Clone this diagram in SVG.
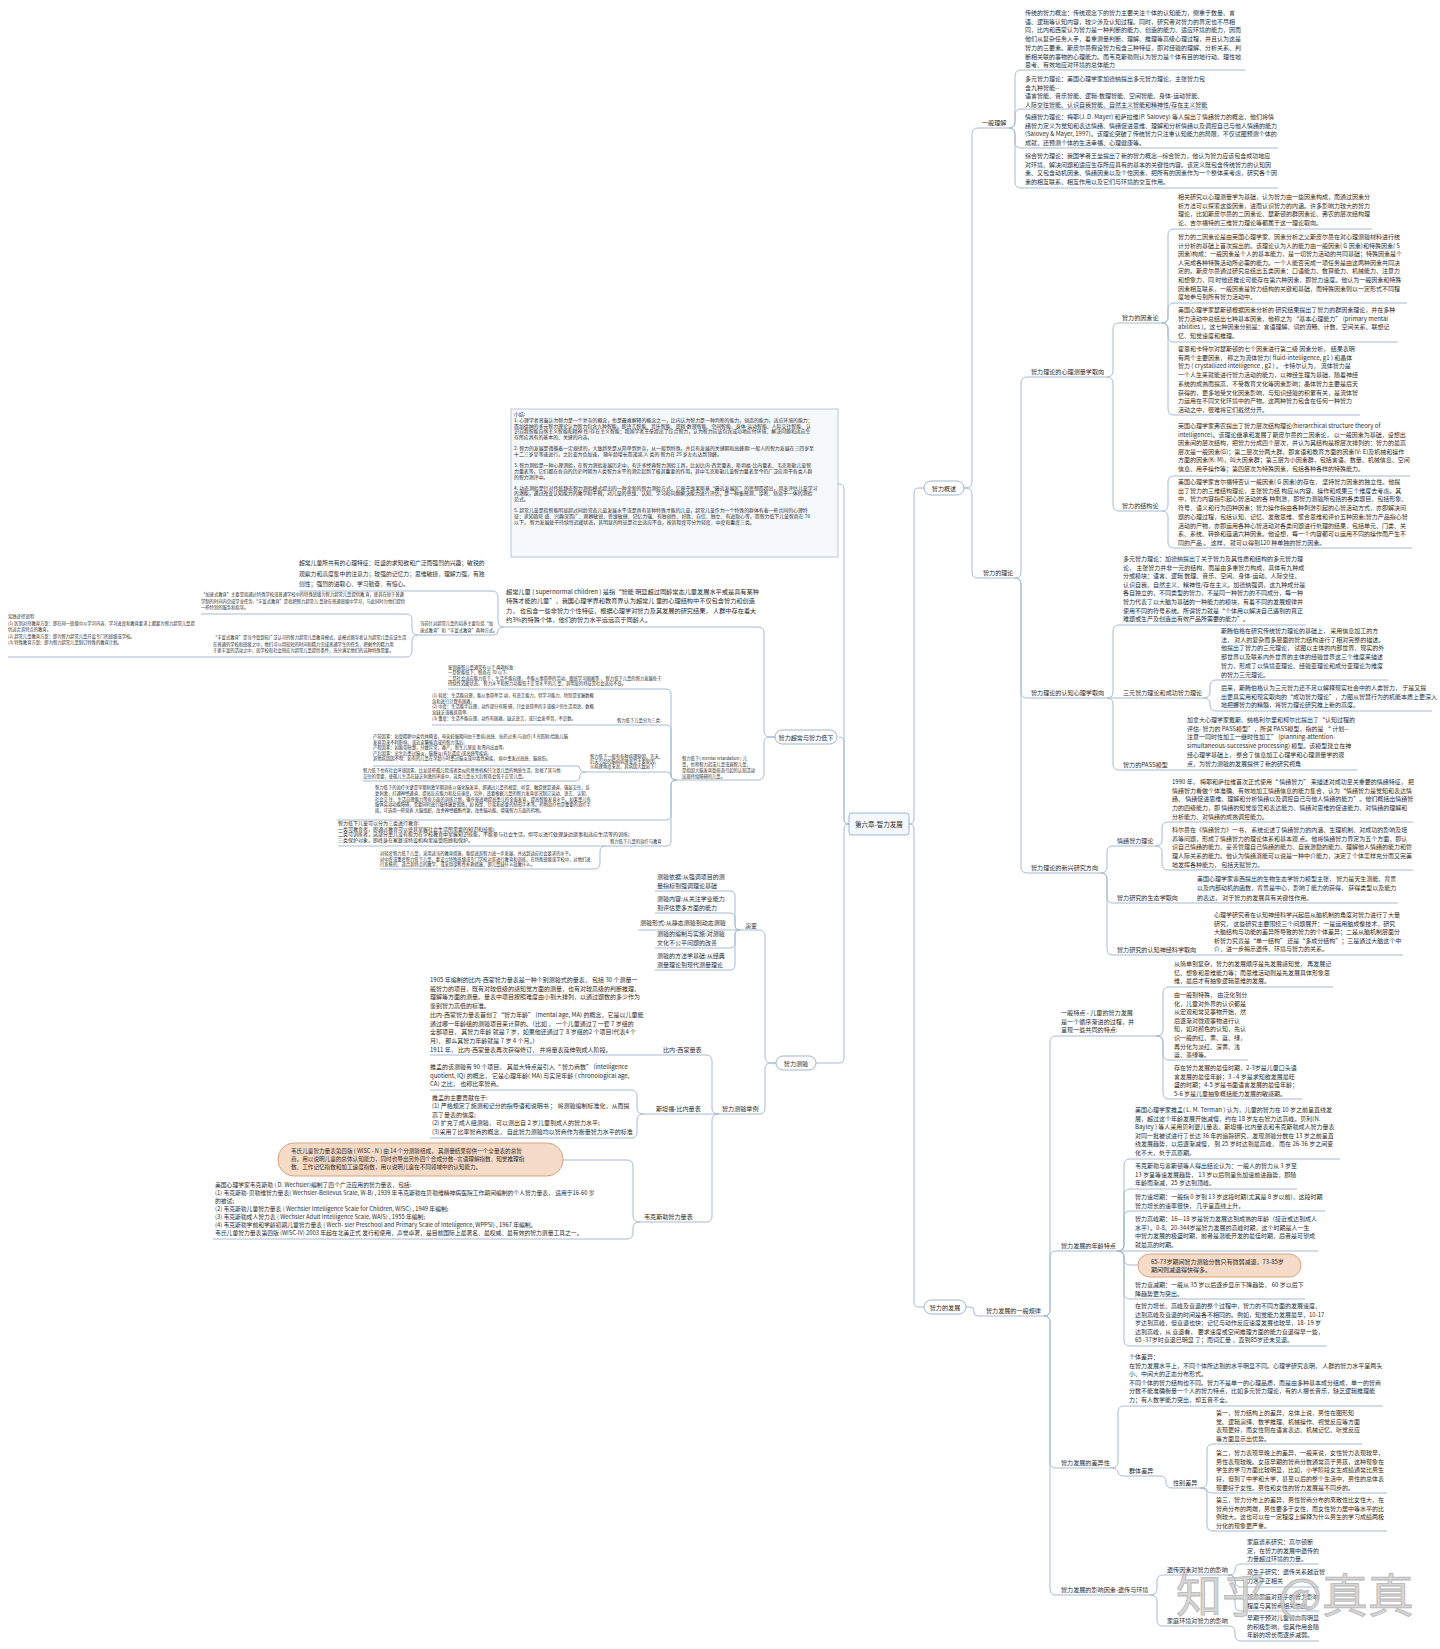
<svg xmlns="http://www.w3.org/2000/svg" width="1440" height="1649" viewBox="0 0 1440 1649">
<style>
text{font-family:"Noto Sans CJK SC","Liberation Sans",sans-serif;fill:#2a2a2a}
.t{font-size:6px}
.lb{font-size:6.1px}
.sm{font-size:4.9px}
.xs{font-size:4.3px}
.wx{font-size:5.8px}
.c{fill:none;stroke:#a7bbd3;stroke-width:1}
.u{stroke:#a7bbd3;stroke-width:1}
.pill{fill:#fff;stroke:#9fb5cf;stroke-width:1}
.ob{fill:#f6dcc8;stroke:#d9a47c;stroke-width:1}
.mid{text-anchor:middle}
</style>
<rect width="1440" height="1649" fill="#fff"/>

<g id="connectors">
<path class="c" d="M909 824 Q914 824 914 819 V493 Q914 488 919 488 H924"/>
<path class="c" d="M909 824 Q914 824 914 829 V1302 Q914 1307 919 1307 H924"/>
<path class="c" d="M964 488 H966 Q972 488 972 482 V134 Q972 128 978 128"/>
<path class="c" d="M964 488 H966 Q972 488 972 494 V572 Q972 578 978 578"/>
<path class="c" d="M1009 128 Q1015 128 1015 122 V76 Q1015 70 1021 70"/>
<path class="c" d="M1009 128 Q1015 128 1015 122 V115 Q1015 109 1021 109"/>
<path class="c" d="M1009 128 Q1015 128 1015 134 V142 Q1015 148 1021 148"/>
<path class="c" d="M1009 128 Q1015 128 1015 134 V182 Q1015 188 1021 188"/>
<path class="c" d="M1015 578 Q1021 578 1021 572 V383 Q1021 377 1027 377"/>
<path class="c" d="M1015 578 Q1021 578 1021 584 V692 Q1021 698 1027 698"/>
<path class="c" d="M1015 578 Q1021 578 1021 584 V867 Q1021 873 1027 873"/>
<path class="c" d="M1107 377 Q1113 377 1113 371 V329 Q1113 323 1119 323"/>
<path class="c" d="M1107 377 Q1113 377 1113 383 V505 Q1113 511 1119 511"/>
<path class="c" d="M1162 323 Q1168 323 1168 317 V235 Q1168 229 1174 229"/>
<path class="c" d="M1162 323 Q1168 323 1168 317 V309 Q1168 303 1174 303"/>
<path class="c" d="M1162 323 Q1168 323 1168 329 V336 Q1168 342 1174 342"/>
<path class="c" d="M1162 323 Q1168 323 1168 329 V409 Q1168 415 1174 415"/>
<path class="c" d="M1162 511 Q1168 511 1168 505 V482 Q1168 476 1174 476"/>
<path class="c" d="M1162 511 Q1168 511 1168 517 V542 Q1168 548 1174 548"/>
<path class="c" d="M1107 698 Q1113 698 1113 692 V631 Q1113 625 1119 625"/>
<path class="c" d="M1107 698 H1119"/>
<path class="c" d="M1107 698 Q1113 698 1113 704 V764 Q1113 770 1119 770"/>
<path class="c" d="M1203 698 Q1210 698 1210 692 V686 Q1210 680 1216 680"/>
<path class="c" d="M1203 698 Q1210 698 1210 704 V705 Q1210 711 1216 711"/>
<path class="c" d="M1101 873 Q1107 873 1107 867 V852 Q1107 846 1113 846"/>
<path class="c" d="M1101 873 Q1107 873 1107 879 V897 Q1107 903 1113 903"/>
<path class="c" d="M1101 873 Q1107 873 1107 879 V949 Q1107 955 1113 955"/>
<path class="c" d="M1155 846 Q1162 846 1162 840 V828 Q1162 822 1168 822"/>
<path class="c" d="M1155 846 Q1162 846 1162 852 V864 Q1162 870 1168 870"/>
<path class="c" d="M966 1307 H970 Q974 1307 974 1311 V1312 Q974 1316 978 1316 H982"/>
<path class="c" d="M1044 1316 Q1050 1316 1050 1310 V1042 Q1050 1036 1056 1036"/>
<path class="c" d="M1044 1316 Q1050 1316 1050 1310 V1257 Q1050 1251 1056 1251"/>
<path class="c" d="M1044 1316 Q1050 1316 1050 1322 V1462 Q1050 1468 1056 1468"/>
<path class="c" d="M1044 1316 Q1050 1316 1050 1322 V1589 Q1050 1595 1056 1595"/>
<path class="c" d="M1156 1036 Q1163 1036 1163 1030 V993 Q1163 987 1169 987"/>
<path class="c" d="M1156 1036 Q1163 1036 1163 1042 V1054 Q1163 1060 1169 1060"/>
<path class="c" d="M1156 1036 Q1163 1036 1163 1042 V1093 Q1163 1099 1169 1099"/>
<path class="c" d="M1117 1251 Q1124 1251 1124 1245 V1165 Q1124 1159 1130 1159"/>
<path class="c" d="M1117 1251 Q1124 1251 1124 1245 V1195 Q1124 1189 1130 1189"/>
<path class="c" d="M1117 1251 Q1124 1251 1124 1245 V1217 Q1124 1211 1130 1211"/>
<path class="c" d="M1117 1251 H1130"/>
<path class="c" d="M1117 1251 Q1124 1251 1124 1257 V1259 Q1124 1265 1130 1265 H1138"/>
<path class="c" d="M1117 1251 Q1124 1251 1124 1257 V1293 Q1124 1299 1130 1299"/>
<path class="c" d="M1117 1251 Q1124 1251 1124 1257 V1340 Q1124 1346 1130 1346"/>
<path class="c" d="M1111 1468 Q1118 1468 1118 1462 V1412 Q1118 1406 1124 1406"/>
<path class="c" d="M1111 1468 Q1118 1468 1118 1472 Q1118 1476 1124 1476"/>
<path class="c" d="M1160 1476 Q1166 1476 1166 1482 Q1166 1488 1172 1488"/>
<path class="c" d="M1200 1488 Q1207 1488 1207 1482 V1450 Q1207 1444 1213 1444"/>
<path class="c" d="M1200 1488 Q1207 1488 1207 1490 Q1207 1493 1213 1493"/>
<path class="c" d="M1200 1488 Q1207 1488 1207 1494 V1525 Q1207 1531 1213 1531"/>
<path class="c" d="M1150 1595 Q1157 1595 1157 1589 V1581 Q1157 1575 1163 1575"/>
<path class="c" d="M1150 1595 Q1157 1595 1157 1601 V1620 Q1157 1626 1163 1626"/>
<path class="c" d="M1228 1575 Q1235 1575 1235 1570 Q1235 1564 1241 1564"/>
<path class="c" d="M1228 1575 Q1235 1575 1235 1581 Q1235 1587 1241 1587"/>
<path class="c" d="M1228 1575 Q1235 1575 1235 1581 V1605 Q1235 1611 1241 1611"/>
<path class="c" d="M1228 1626 Q1235 1626 1235 1632 V1635 Q1235 1641 1241 1641"/>

<path class="c" d="M849 824 Q844 824 844 819 V489 Q844 484 839 484 H838"/>
<path class="c" d="M849 824 Q844 824 844 819 V742 Q844 737 839 737"/>
<path class="c" d="M849 824 Q844 824 844 829 V1058 Q844 1063 839 1063 H816"/>
<path class="c" d="M775 737 H770 Q764 737 764 731 V633 Q764 627 758 627"/>
<path class="c" d="M775 737 H770 Q764 737 764 743 V774 Q764 780 758 780"/>
<path class="c" d="M504 627 Q498 627 498 621 V597 Q498 591 492 591"/>
<path class="c" d="M504 627 Q498 627 498 631 Q498 635 494 635 H492"/>
<path class="c" d="M418 635 Q412 635 412 629 V620 Q412 614 406 614"/>
<path class="c" d="M418 635 Q412 635 412 641 V651 Q412 657 406 657"/>
<path class="c" d="M213 657 H201"/>
<path class="c" d="M677 780 Q671 780 671 775 V694 Q671 689 666 689"/>
<path class="c" d="M677 780 Q671 780 671 775 V730 Q671 725 666 725"/>
<path class="c" d="M677 780 Q671 780 671 776 Q671 772 667 772"/>
<path class="c" d="M677 780 Q671 780 671 785 V815 Q671 820 666 820"/>
<path class="c" d="M677 780 Q671 780 671 785 V841 Q671 846 666 846"/>
<path class="c" d="M586 772 Q580 772 580 769 Q580 766 577 766"/>
<path class="c" d="M586 772 Q580 772 580 776 Q580 781 575 781"/>
<path class="c" d="M606 846 Q600 846 600 852 V863 Q600 869 594 869"/>
<path class="c" d="M776 1063 H771 Q765 1063 765 1057 V936 Q765 930 759 930"/>
<path class="c" d="M776 1063 H771 Q765 1063 765 1069 V1108 Q765 1114 759 1114"/>
<path class="c" d="M740 930 Q735 930 735 925 V896 Q735 891 730 891"/>
<path class="c" d="M740 930 Q735 930 735 925 V918 Q735 913 730 913"/>
<path class="c" d="M740 930 H730"/>
<path class="c" d="M740 930 Q735 930 735 935 V943 Q735 948 730 948"/>
<path class="c" d="M740 930 Q735 930 735 935 V965 Q735 970 730 970"/>
<path class="c" d="M719 1114 Q712 1114 712 1108 V1061 Q712 1055 706 1055"/>
<path class="c" d="M719 1114 H706"/>
<path class="c" d="M719 1114 Q712 1114 712 1120 V1216 Q712 1222 706 1222"/>
<path class="c" d="M644 1114 Q637 1114 637 1108 V1096 Q637 1090 631 1090"/>
<path class="c" d="M644 1114 Q637 1114 637 1120 V1132 Q637 1138 631 1138"/>
<path class="c" d="M640 1222 Q633 1222 633 1216 V1166 Q633 1160 627 1160 H563"/>
<path class="c" d="M640 1222 Q633 1222 633 1228 V1233 Q633 1239 627 1239"/>
</g>

<g id="root">
<rect x="849" y="813" width="60" height="22" rx="3" fill="#f4f7fb" stroke="#9fb5cf"/>
<text class="lb mid" x="879" y="826.5" style="font-size:6.5px">第六章-智力发展</text>
</g>

<g id="n-overview"><rect class="pill" x="924" y="481" width="40" height="14" rx="7"/><text class="lb mid" x="944" y="490.5">智力概述</text></g>
<g id="n-development"><rect class="pill" x="924" y="1300" width="42" height="14" rx="7"/><text class="lb mid" x="945" y="1309.5">智力的发展</text></g>
<g id="n-gifted"><rect class="pill" x="775" y="730" width="62" height="14" rx="7"/><text class="lb mid" x="806" y="739.5">智力超常与智力低下</text></g>
<g id="n-test"><rect class="pill" x="776" y="1056" width="40" height="14" rx="7"/><text class="lb mid" x="796" y="1065.5">智力测验</text></g>

<g id="n-general"><text class="lb" x="982" y="125">一般理解</text><line class="u" x1="978" y1="128" x2="1009" y2="128"/></g>
<g id="n-a1"><text class="t" x="1025" y="15">传统的智力概念：传统观念下的智力主要关注个体的认知能力，侧重于数量、言<tspan x="1025" dy="8.7">语、逻辑等认知内容，较少涉及认知过程。同时，研究者对智力的界定也不尽相</tspan><tspan x="1025" dy="8.7">同，比内和西蒙认为智力是一种判断的能力、创造的能力、适应环境的能力，因而</tspan><tspan x="1025" dy="8.7">他们从复杂任务入手，着重测量判断、理解、推理等高级心理过程，并且认为这是</tspan><tspan x="1025" dy="8.7">智力的三要素。斯皮尔曼假设智力包含三种特征，即对经验的理解、分析关系、判</tspan><tspan x="1025" dy="8.7">断相关联的事物的心理能力。而韦克斯勒则认为智力是个体有目的地行动、理性地</tspan><tspan x="1025" dy="8.7">思考、有效地应对环境的总体能力</tspan></text><line class="u" x1="1021" y1="70" x2="1245" y2="70"/></g>
<g id="n-a2"><text class="t" x="1025" y="81">多元智力理论：美国心理学家加德纳提出多元智力理论，主张智力包<tspan x="1025" dy="8.5">含九种智能--</tspan><tspan x="1025" dy="8.5">语言智能、音乐智能、逻辑-数理智能、空间智能、身体-运动智能、</tspan><tspan x="1025" dy="8.5">人际交往智能、认识自我智能、自然主义智能和精神性/存在主义智能</tspan></text><line class="u" x1="1021" y1="109" x2="1208" y2="109"/></g>
<g id="n-a3"><text class="t" x="1025" y="119">情绪智力理论：梅耶(J. D. Mayer) 和萨拉维(P. Salovey) 等人提出了情绪智力的概念，他们将情<tspan x="1025" dy="8.7">绪智力定义为觉知和表达情绪、情绪促进思维、理解和分析情绪以及调控自己与他人情绪的能力</tspan><tspan x="1025" dy="8.7">(Salovey &amp; Mayer, 1997)。该理论突破了传统智力只注重认知能力的局限，不仅试图预测个体的</tspan><tspan x="1025" dy="8.7">成就，还预测个体的生活幸福、心理健康等。</tspan></text><line class="u" x1="1021" y1="148" x2="1278" y2="148"/></g>
<g id="n-a4"><text class="t" x="1025" y="158">综合智力理论：我国学者王垒提出了新的智力概念—综合智力，他认为智力应该包含成功地应<tspan x="1025" dy="8.7">对环境、解决问题和适应生存所应具有的基本的关键性内容。该定义既包含传统智力的认知因</tspan><tspan x="1025" dy="8.7">素、又包含动机因素、情绪因素以及个性因素，把所有的因素作为一个整体来考虑，研究各个因</tspan><tspan x="1025" dy="8.7">素的相互联系、相互作用以及它们与环境的交互作用。</tspan></text><line class="u" x1="1021" y1="188" x2="1278" y2="188"/></g>

<g id="n-theory"><text class="lb" x="983" y="575">智力的理论</text><line class="u" x1="978" y1="578" x2="1015" y2="578"/></g>
<g id="n-psychometric"><text class="lb" x="1031" y="374">智力理论的心理测量学取向</text><line class="u" x1="1027" y1="377" x2="1107" y2="377"/></g>
<g id="n-factor"><text class="lb" x="1122" y="320">智力的因素论</text><line class="u" x1="1119" y1="323" x2="1162" y2="323"/></g>
<g id="n-b1"><text class="t" x="1178" y="199">相关研究以心理测量学为基础，认为智力由一些因素构成，而通过因素分<tspan x="1178" dy="8.7">析方法可以探索这些因素，进而认识智力的内涵。许多影响力较大的智力</tspan><tspan x="1178" dy="8.7">理论，比如斯皮尔曼的二因素论、瑟斯顿的群因素论、弗农的层次结构理</tspan><tspan x="1178" dy="8.7">论、吉尔福特的三维智力理论等都属于这一理论取向。</tspan></text><line class="u" x1="1174" y1="229" x2="1372" y2="229"/></g>
<g id="n-b2"><text class="t" x="1178" y="239">智力的二因素论是由英国心理学家、因素分析之父斯皮尔曼在对心理测验材料进行统<tspan x="1178" dy="8.6">计分析的基础上首次提出的。该理论认为人的能力由一般因素( G 因素)和特殊因素( S</tspan><tspan x="1178" dy="8.6">因素)构成：一般因素是个人的基本能力，是一切智力活动的共同基础；特殊因素是个</tspan><tspan x="1178" dy="8.6">人完成各种特殊活动所必需的能力。一个人能否完成一项任务是由这两种因素共同决</tspan><tspan x="1178" dy="8.6">定的。斯皮尔曼通过研究总结出五类因素：口语能力、数算能力、机械能力、注意力</tspan><tspan x="1178" dy="8.6">和想象力，同 时他还推论可能存在第六种因素，即智力速度。他认为一般因素和特殊</tspan><tspan x="1178" dy="8.6">因素相互联系，一般因素是智力结构的关键和基础，而特殊因素则以一定形式不同程</tspan><tspan x="1178" dy="8.6">度地参与到所有智力活动中。</tspan></text><line class="u" x1="1174" y1="303" x2="1407" y2="303"/></g>
<g id="n-b3"><text class="t" x="1178" y="312">美国心理学家瑟斯顿根据因素分析的 研究结果提出了智力的群因素理论，并在多种<tspan x="1178" dy="8.6">智力活动中总结出七种基本因素，他称之为 “基本心理能力” (primary mental</tspan><tspan x="1178" dy="8.6">abilities )。这七种因素分别是：言语理解、词的流畅、计数、空间关系、联想记</tspan><tspan x="1178" dy="8.6">忆、知觉速度和推理。</tspan></text><line class="u" x1="1174" y1="342" x2="1398" y2="342"/></g>
<g id="n-b4"><text class="t" x="1178" y="351">霍恩和卡特尔对瑟斯顿的七个因素进行第二级 因素分析，  结果表明<tspan x="1178" dy="8.7">有两个主要因素， 称之为流体智力( fluid-intelligence, g1 ) 和晶体</tspan><tspan x="1178" dy="8.7">智力 ( crystallized intelligence , g2 ) 。 卡特尔认为， 流体智力是</tspan><tspan x="1178" dy="8.7">一个人生来就能进行智力活动的能力，以神经生理为基础，随着神经</tspan><tspan x="1178" dy="8.7">系统的成熟而提高，不受教育文化等因素影响；晶体智力主要是后天</tspan><tspan x="1178" dy="8.7">获得的，更多地受文化因素影响，与知识经验的积累有关，是流体智</tspan><tspan x="1178" dy="8.7">力运用在不同文化环境中的产物。这两种智力包含在任何一种智力</tspan><tspan x="1178" dy="8.7">活动之中，很难将它们截然分开。</tspan></text><line class="u" x1="1174" y1="415" x2="1360" y2="415"/></g>
<g id="n-structure"><text class="lb" x="1122" y="508">智力的结构论</text><line class="u" x1="1119" y1="511" x2="1162" y2="511"/></g>
<g id="n-b5"><text class="t" x="1178" y="428">英国心理学家弗农提出了智力层次结构理论(hierarchical structure theory of<tspan x="1178" dy="8.6">intelligence)。该理论继承和发展了斯皮尔曼的二因素论， 以一般因素为基础，设想出</tspan><tspan x="1178" dy="8.6">因素间的层次结构，把智力分成四个层次，并认为其结构是按层次排列的：智力的最高</tspan><tspan x="1178" dy="8.6">层次是一般因素(G)；第二层次分两大群，即言语和教育方面的因素(V: E)及机械和操作</tspan><tspan x="1178" dy="8.6">方面的因素(K: M)，叫大因素群；第三层为小因素群，包括言语、数量、机械信息、空间</tspan><tspan x="1178" dy="8.6">信息、用手操作等；第四层次为特殊因素，包括各种各样的特殊能力。</tspan></text><line class="u" x1="1174" y1="476" x2="1410" y2="476"/></g>
<g id="n-b6"><text class="t" x="1178" y="484">美国心理学家吉尔福特否认一般因素( G 因素)的存在， 坚持智力因素的独立性。他提<tspan x="1178" dy="8.7">出了智力的三维结构理论，主张智力结 构应从内容、操作和成果三个维度去考虑。其</tspan><tspan x="1178" dy="8.7">中，智力内容指引起心智活动的各 种刺激，即智力测验所包括的各类题目，包括形象、</tspan><tspan x="1178" dy="8.7">符号、语义和行为四种因素；智力操作指由各种刺激引起的心智活动方式，亦即解决问</tspan><tspan x="1178" dy="8.7">题的心理过程，包括认知、记忆、发散思维、聚合思维和评价五种因素;智力产品指心智</tspan><tspan x="1178" dy="8.7">活动的产物，亦即运用各种心智活动对各类问题进行处理的结果，包括单元、门类、关</tspan><tspan x="1178" dy="8.7">系、系统、转换和蕴涵六种因素。他设想，每一个内容都可以运用不同的操作而产生不</tspan><tspan x="1178" dy="8.7">同的产品 。 这样， 就可以得到120 种单独的智力因素。</tspan></text><line class="u" x1="1174" y1="548" x2="1412" y2="548"/></g>

<g id="n-cognitive"><text class="lb" x="1031" y="695">智力理论的认知心理学取向</text><line class="u" x1="1027" y1="698" x2="1107" y2="698"/></g>
<g id="n-g"><text class="t" x="1123" y="561">多元智力理论：加德纳提出了关于智力及其性质和结构的多元智力理<tspan x="1123" dy="8.6">论， 主张智力并非一元的结构，而是由多重智力构成，具体有九种成</tspan><tspan x="1123" dy="8.6">分或模块：语言、逻辑 数理、音乐、空间、身体-运动、人际交往、</tspan><tspan x="1123" dy="8.6">认识自我、自然主义、精神性/存在主义。加德纳强调，这九种成分是</tspan><tspan x="1123" dy="8.6">各自独立的，不同类型的智力，不是同一种智力的不同成分，每一种</tspan><tspan x="1123" dy="8.6">智力代表了以大脑为基础的一种能力的模块，有着不同的发展规律并</tspan><tspan x="1123" dy="8.6">使用不同的符号系统。所谓智力就是“个体用以解决自己遇到的真正</tspan><tspan x="1123" dy="8.6">难题或生产及创造出有效产品所需要的能力”。</tspan></text><line class="u" x1="1119" y1="625" x2="1306" y2="625"/></g>
<g id="n-triarchic"><text class="lb" x="1123" y="695">三元智力理论和成功智力理论</text><line class="u" x1="1119" y1="698" x2="1203" y2="698"/></g>
<g id="n-h"><text class="t" x="1221" y="633">斯腾伯格在研究传统智力理论的基础上， 采用信息加工的方<tspan x="1221" dy="8.7">法， 对人的复杂而多层面的智力结构进行了相对完整的描述。</tspan><tspan x="1221" dy="8.7">他提出了智力的三元理论， 试图以主体的内部世界、现实的外</tspan><tspan x="1221" dy="8.7">部世界以及联系内外世界的主体的经验世界这三个维度来描述</tspan><tspan x="1221" dy="8.7">智力，形成了以情境亚理论、经验亚理论和成分亚理论为维度</tspan><tspan x="1221" dy="8.7">的智力三元理论。</tspan></text><line class="u" x1="1216" y1="680" x2="1388" y2="680"/></g>
<g id="n-i"><text class="t" x="1221" y="690">后来，斯腾伯格认为三元智力还不足以解释现实社会中的人类智力， 于是又提<tspan x="1221" dy="8.6">出更具实用和现实取向的“成功智力理论”，力图从智慧行为的机能本质上更深入</tspan><tspan x="1221" dy="8.6">地把握智力的精髓，将智力理论研究推上新的高度。</tspan></text><line class="u" x1="1216" y1="711" x2="1432" y2="711"/></g>
<g id="n-pass"><text class="lb" x="1123" y="767">智力的PASS模型</text><text class="t" x="1187" y="722">加拿大心理学家戴斯、纳格利尔里和柯尔比提出了“认知过程的<tspan x="1187" dy="8.7">评估- 智力的 PASS模型”，所谓 PASS模型，指的是 “ 计划--</tspan><tspan x="1187" dy="8.7">注意一同时性加工一继时性加工” (planning-attention-</tspan><tspan x="1187" dy="8.7">simultaneous-successive processing) 模型。该模型建立在神</tspan><tspan x="1187" dy="8.7">经心理学基础上， 整合了信息加工心理学和心理测量学的观</tspan><tspan x="1187" dy="8.7">点，为智力测验的发展提供了新的研究视角</tspan></text><line class="u" x1="1119" y1="770" x2="1357" y2="770"/></g>

<g id="n-emerging"><text class="lb" x="1031" y="870">智力理论的新兴研究方向</text><line class="u" x1="1027" y1="873" x2="1101" y2="873"/></g>
<g id="n-ei"><text class="lb" x="1117" y="843">情绪智力理论</text><line class="u" x1="1113" y1="846" x2="1155" y2="846"/></g>
<g id="n-j"><text class="t" x="1172" y="784">1990 年， 梅耶和萨拉维首次正式使用“ 情绪智力” 来描述对成功至关重要的情绪特征， 把<tspan x="1172" dy="8.7">情绪智力看做个体准确、有效地加工情绪信息的能力集合，认为“情绪智力是觉知和表达情</tspan><tspan x="1172" dy="8.7">绪、 情绪促进思维、理解和分析情绪以及调控自己与他人情绪的能力”。他们概括出情绪智</tspan><tspan x="1172" dy="8.7">力的四级能力，即 情绪的知觉鉴赏和表达能力、情绪对思维的促进能力、对情绪的理解和</tspan><tspan x="1172" dy="8.7">分析能力、对情绪的成熟调控能力。</tspan></text><line class="u" x1="1168" y1="822" x2="1413" y2="822"/></g>
<g id="n-k"><text class="t" x="1172" y="832">科尔曼在《情绪智力》一书， 系统论述了情绪智力的内涵、生理机制、对成功的影响及培<tspan x="1172" dy="8.7">养等问题，形成了情绪智力的理论体系和基本观 点。他将情绪智力界定为五个方面，即认</tspan><tspan x="1172" dy="8.7">识自己情绪的能力、妥善管理自己情绪的能力、自我激励的能力、理解他人情绪的能力和管</tspan><tspan x="1172" dy="8.7">理人际关系的能力。他认为情绪潜能可以说是一种中介能力，决定了个体怎样充分而又完美</tspan><tspan x="1172" dy="8.7">地发挥各种能力， 包括天赋智力。</tspan></text><line class="u" x1="1168" y1="870" x2="1413" y2="870"/></g>
<g id="n-eco"><text class="lb" x="1117" y="900">智力研究的生态学取向</text><text class="t" x="1197" y="881">美国心理学家塞西提出的生物生态学智力模型主张， 智力是天生潜能、背景<tspan x="1197" dy="9.3">以及内部动机的函数，背景是中心，影响了能力的获得， 获得类型以及能力</tspan><tspan x="1197" dy="9.3">的表达， 对于智力的发展具有关键性作用。</tspan></text><line class="u" x1="1113" y1="903" x2="1398" y2="903"/></g>
<g id="n-neuro"><text class="lb" x="1117" y="952">智力研究的认知神经科学取向</text><text class="t" x="1214" y="917">心理学研究者在认知神经科学兴起后从脑机制的角度对智力进行了大量<tspan x="1214" dy="8.6">研究， 这些研究主要围绕三个问题展开：一是运用脑成像技术，研究</tspan><tspan x="1214" dy="8.6">大脑结构与功能的差异所导致的智力的个体差异；二是从脑机制层面分</tspan><tspan x="1214" dy="8.6">析智力究竟是“单一结构” 还是“多成分结构”；三是通过大脑这个中</tspan><tspan x="1214" dy="8.6">介，进一步揭示遗传、环境与智力的关系。</tspan></text><line class="u" x1="1113" y1="955" x2="1403" y2="955"/></g>

<g id="n-rules"><text class="lb" x="986" y="1313">智力发展的一般规律</text><line class="u" x1="982" y1="1316" x2="1044" y2="1316"/></g>
<g id="n-common"><text class="lb" x="1061" y="1015">一般特点 - 儿童的智力发展<tspan x="1061" dy="8.6">是一个循序渐进的过程，并</tspan><tspan x="1061" dy="8.6">呈现一些共同的特点:</tspan></text><line class="u" x1="1056" y1="1036" x2="1156" y2="1036"/></g>
<g id="n-n"><text class="t" x="1174" y="966">从简单到复杂，智力的发展顺序是先发展感知觉， 再发展记<tspan x="1174" dy="8.6">忆、想象和思维能力等；而思维活动则是先发展具体形象思</tspan><tspan x="1174" dy="8.6">维，最后才有抽象逻辑思维的发展。</tspan></text><line class="u" x1="1169" y1="987" x2="1333" y2="987"/></g>
<g id="n-o"><text class="t" x="1174" y="997">由一般到特殊， 由泛化到分<tspan x="1174" dy="8.6">化，儿童对外界的认识都是</tspan><tspan x="1174" dy="8.6">从宏观和常见事物开始，然</tspan><tspan x="1174" dy="8.6">后逐渐对微观事物进行认</tspan><tspan x="1174" dy="8.6">知，如对颜色的认知，先认</tspan><tspan x="1174" dy="8.6">识一般的红、黄、蓝、绿，</tspan><tspan x="1174" dy="8.6">再分化为淡红、深黄、浅</tspan><tspan x="1174" dy="8.6">蓝、墨绿等。</tspan></text><line class="u" x1="1169" y1="1060" x2="1248" y2="1060"/></g>
<g id="n-p"><text class="t" x="1174" y="1070">存在智力发展的最佳时期，2-3岁是儿童口头语<tspan x="1174" dy="8.7">言发展的最佳年龄；3 - 4 岁是求知欲发展最旺</tspan><tspan x="1174" dy="8.7">盛的时期；4-5 岁是书面语言发展的最佳年龄；</tspan><tspan x="1174" dy="8.7">5-6 岁是儿童抽象概括能力发展的敏感期。</tspan></text><line class="u" x1="1169" y1="1099" x2="1302" y2="1099"/></g>

<g id="n-age"><text class="lb" x="1061" y="1248">智力发展的年龄特点</text><line class="u" x1="1056" y1="1251" x2="1117" y2="1251"/></g>
<g id="n-q"><text class="t" x="1135" y="1112">美国心理学家推孟( L. M. Terman ) 认为，儿童的智力在 10 岁之前呈直线发<tspan x="1135" dy="8.6">展，超过这个年龄发展开始减慢，约在 18 岁左右智力达高峰。贝利(N.</tspan><tspan x="1135" dy="8.6">Bayley ) 等人采用贝利婴儿量表、斯坦福-比内量表和韦克斯勒成人智力量表</tspan><tspan x="1135" dy="8.6">对同一批被试进行了长达 36 年的追踪研究，发现测验分数在 13 岁之前呈直</tspan><tspan x="1135" dy="8.6">线发展趋势，以后逐渐减慢， 到 25 岁时达到最高峰， 而在 26-36 岁之间变</tspan><tspan x="1135" dy="8.6">化不大，处于高原期。</tspan></text><line class="u" x1="1130" y1="1159" x2="1340" y2="1159"/></g>
<g id="n-r"><text class="t" x="1135" y="1168">韦克斯勒与塞斯顿等人得出结论认为：一般人的智力从 3 岁至<tspan x="1135" dy="8.6">13 岁呈等速发展趋势， 13 岁以后则呈负加速前进趋势，即随</tspan><tspan x="1135" dy="8.6">年龄而渐减，25 岁达到顶峰。</tspan></text><line class="u" x1="1130" y1="1189" x2="1297" y2="1189"/></g>
<g id="n-s"><text class="t" x="1135" y="1199">智力速增期：一般指 0 岁到 13 岁这段时期(尤其是 8 岁以前)，这段时期<tspan x="1135" dy="8.6">智力增长的速率很快， 几乎呈直线上升。</tspan></text><line class="u" x1="1130" y1="1211" x2="1325" y2="1211"/></g>
<g id="n-t"><text class="t" x="1135" y="1221">智力高峰期：16—18 岁是智力发展达到成熟的年龄（接近或达到成人<tspan x="1135" dy="8.6">水平）。0-8、20-344岁是智力发展的高峰时期，这个时期是人一生</tspan><tspan x="1135" dy="8.6">中智力发展的极盛时期，前者是潜能开发的最佳时期，后者是可望成</tspan><tspan x="1135" dy="8.6">就最高的时期。</tspan></text><line class="u" x1="1130" y1="1251" x2="1318" y2="1251"/></g>
<g id="n-u"><rect class="ob" x="1138" y="1254" width="163" height="23" rx="11.5"/><text class="t" x="1151" y="1264">65-73岁期间智力测验分数只有微弱减退，73-85岁<tspan x="1151" dy="8.3">期间则减退得快得多。</tspan></text></g>
<g id="n-v"><text class="t" x="1135" y="1287">智力衰减期：一般从 35 岁以后逐步显示下降趋势， 60 岁以后下<tspan x="1135" dy="8.6">降趋势更为突出。</tspan></text><line class="u" x1="1130" y1="1299" x2="1305" y2="1299"/></g>
<g id="n-w"><text class="t" x="1135" y="1308">在智力增长、高峰及衰退的整个过程中，智力的不同方面的发展速度、<tspan x="1135" dy="8.6">达到高峰及衰退的时间是各不相同的。例如，知觉能力发展最早，10-17</tspan><tspan x="1135" dy="8.6">岁达到高峰，但衰退也快；记忆与动作反应速度发展也较早，18- 19 岁</tspan><tspan x="1135" dy="8.6">达到高峰，从 衰退看， 要求速度或空间推理方面的能力衰退得早一些，</tspan><tspan x="1135" dy="8.6">65 -37岁时衰退已明显 了；而词汇量 ，直到85岁还未见退。</tspan></text><line class="u" x1="1130" y1="1346" x2="1327" y2="1346"/></g>

<g id="n-diff"><text class="lb" x="1061" y="1465">智力发展的差异性</text><line class="u" x1="1056" y1="1468" x2="1111" y2="1468"/></g>
<g id="n-x"><text class="t" x="1129" y="1359">个体差异：<tspan x="1129" dy="8.6">在智力发展水平上，不同个体所达到的水平明显不同。心理学研究表明， 人群的智力水平呈两头</tspan><tspan x="1129" dy="8.6">小、中间大的正态分布形式。</tspan><tspan x="1129" dy="8.6">不同个体的智力结构也不同。智力不是单一的心理品质，而是由多种基本成分组成，单一的智商</tspan><tspan x="1129" dy="8.6">分数不能准确衡量一个人的智力特点，比如多元智力理论，有的人擅长音乐，缺乏逻辑推理能</tspan><tspan x="1129" dy="8.6">力；有人数学能力突出，却五音不全。</tspan></text><line class="u" x1="1124" y1="1406" x2="1383" y2="1406"/></g>
<g id="n-group"><text class="lb" x="1129" y="1473">群体差异</text><line class="u" x1="1124" y1="1476" x2="1160" y2="1476"/></g>
<g id="n-gender"><text class="lb" x="1173" y="1485">性别差异</text><line class="u" x1="1172" y1="1488" x2="1200" y2="1488"/></g>
<g id="n-y"><text class="t" x="1216" y="1415">第一，智力结构上的差异，总体上说，男性在图形知<tspan x="1216" dy="8.7">觉、逻辑演绎、数学推理、机械操作、视觉反应等方面</tspan><tspan x="1216" dy="8.7">表现更好，而女性则在语言表达、机械记忆、听觉反应</tspan><tspan x="1216" dy="8.7">等方面显示出优势。</tspan></text><line class="u" x1="1213" y1="1444" x2="1362" y2="1444"/></g>
<g id="n-z"><text class="t" x="1216" y="1455">第二，智力表现早晚上的差异，一般来说，女性智力表现较早，<tspan x="1216" dy="8.7">男性表现较晚。女孩早期的智商分数通常高于男孩，这种现象在</tspan><tspan x="1216" dy="8.7">学生的学习方面比较明显，比如，小学阶段女生成绩通常比男生</tspan><tspan x="1216" dy="8.7">好，但到了中学和大学，甚至以后的整个生活中，男性的总体表</tspan><tspan x="1216" dy="8.7">现要好于女性。男性和女性的智力发展是不同步的。</tspan></text><line class="u" x1="1213" y1="1493" x2="1387" y2="1493"/></g>
<g id="n-aa"><text class="t" x="1216" y="1502">第三，智力分布上的差异，男性智商分布的离散性比女性大，在<tspan x="1216" dy="8.7">智商分布的两端，男性要多于女性，而女性智力居中等水平的比</tspan><tspan x="1216" dy="8.7">例较大。这也可以在一定程度上解释为什么男生的学习成绩两极</tspan><tspan x="1216" dy="8.7">分化的现象更严重。</tspan></text><line class="u" x1="1213" y1="1531" x2="1387" y2="1531"/></g>

<g id="n-factors"><text class="lb" x="1061" y="1592">智力发展的影响因素-遗传与环境</text><line class="u" x1="1056" y1="1595" x2="1150" y2="1595"/></g>
<g id="n-heredity"><text class="lb" x="1167" y="1572">遗传因素对智力的影响</text><line class="u" x1="1163" y1="1575" x2="1228" y2="1575"/></g>
<g id="n-bb"><text class="t" x="1247" y="1544">家庭谱系研究：高尔顿断<tspan x="1247" dy="8.6">定，在智力的发展中遗传的</tspan><tspan x="1247" dy="8.6">力量超过环境的力量。</tspan></text><line class="u" x1="1241" y1="1564" x2="1319" y2="1564"/></g>
<g id="n-cc"><text class="t" x="1247" y="1574">双生子研究：遗传关系越近智<tspan x="1247" dy="8.6">力水平正相关</tspan></text><line class="u" x1="1241" y1="1587" x2="1319" y2="1587"/></g>
<g id="n-dd"><text class="t" x="1247" y="1599">领养家庭对孩子的智力影响<tspan x="1247" dy="8.6">程度与其智商相关性比。</tspan></text><line class="u" x1="1241" y1="1611" x2="1319" y2="1611"/></g>
<g id="n-family"><text class="lb" x="1167" y="1623">家庭环境对智力的影响</text><line class="u" x1="1163" y1="1626" x2="1228" y2="1626"/></g>
<g id="n-ee"><text class="t" x="1247" y="1620">早期干预对儿童智力有明显<tspan x="1247" dy="8.7">的积极影响，但其作用会随</tspan><tspan x="1247" dy="8.7">年龄的增长而逐步减弱。</tspan></text><line class="u" x1="1241" y1="1641" x2="1319" y2="1641"/></g>

<g id="n-summary"><rect x="511" y="409" width="327" height="148" fill="#f6f9fc" stroke="#b7c8db"/>
<text class="sm" x="514" y="416">小结:<tspan x="514" dy="5.8">1. 心理学者普遍认为智力是一个复杂的概念，也是最难解释的概念之一，比内认为智力是一种判断的能力，创造的能力，适应环境的能力；</tspan><tspan x="514" dy="5.8">而加德纳的多元智力理论认为智力包含九种智能，即语言智能、音乐智能、逻辑-数理智能、空间智能、身体-运动智能、人际交往智能、认</tspan><tspan x="514" dy="5.8">识自我智能自然主义智能和精神 性/存在主义智能；我国学者王垒提出了综合智力，认为智力应该包含成功地应付环境、解决问题和适应生</tspan><tspan x="514" dy="5.8">存所应具有的基本的、关键的内容。</tspan><tspan x="514" dy="11">2. 智力的发展是遵循着一定规律的，大致趋势是从简单到复杂，从一般到特殊，并且有发展的关键期和高峰期:一般人的智力发展在三四岁至</tspan><tspan x="514" dy="5.8">十二三岁呈等速进行，之后变为负加速，  随年龄增长而递减,人 类的 智力在 25 岁左右达到顶峰。</tspan><tspan x="514" dy="11">3. 智力测验是一种心理测验，在智力测验发展历史中，有许多经典智力测验工具，比如比内-西蒙量表、斯坦福-比内量表、韦克斯勒儿童智</tspan><tspan x="514" dy="5.8">力量表等，它们都在各自的历史时期为人类智力水平的测定起到了极其重要的作用，其中韦克斯勒儿童智力量表至今仍广泛应用于各类人群</tspan><tspan x="514" dy="5.8">的智力测评中。</tspan><tspan x="514" dy="11">4. 动态测验是针对传统静态智力测验模式提出的一种全新的智力测验方式，它基于维果斯基“最近发展区”的思想而提出，用来评估儿童学习</tspan><tspan x="514" dy="5.8">的潜能，通过改变认知能力的教学和干预，对儿童的思维、认知、学习和问题解决能力进行评估，是一种集预测、诊断、矫治于一体的测验</tspan><tspan x="514" dy="5.8">范式。</tspan><tspan x="514" dy="11">5. 超常儿童是指智能明显超过同龄常态儿童发展水平或是具有某种特殊才能的儿童，超常儿童作为一个特殊的群体有着一些共同的心理特</tspan><tspan x="514" dy="5.8">征：求知欲旺 盛、兴趣深而广、观察敏锐、思维敏捷、记忆力强、有独创性、好胜、自信、独立、有进取心等，而智力低下儿童智商在 70</tspan><tspan x="514" dy="5.8">以下， 智力发展处于持续性迟缓状态，其明显的特征是社会适应不良，按其程度可分为轻度、中度和重度三类。</tspan></text></g>

<g id="n-supernormal"><text class="t" x="506" y="594" style="font-size:6.2px">超常儿童 ( supernormal children ) 是指“智能 明显超过同龄常态儿童发展水平或是具有某种<tspan x="506" dy="9.4">特殊才能的儿童”，我国心理学界和教育界认为超常儿 童的心理结构中不仅包含智力和创造</tspan><tspan x="506" dy="9.4">力， 也包含一些非智力个性特征，根据心理学对智力及其发展的研究结果， 人群中存在着大</tspan><tspan x="506" dy="9.4">约3%的特殊个体，他们的智力水平远远高于同龄人。</tspan></text><line class="u" x1="504" y1="627" x2="758" y2="627"/></g>
<g id="n-traits"><text class="t" x="299" y="565" style="font-size:5.8px">超常儿童所共有的心理特征：旺盛的求知欲和广泛而强烈的兴趣；敏锐的<tspan x="299" dy="10.5">观察力和高度集中的注意力；较强的记忆力；思维敏捷，理解力强，有独</tspan><tspan x="299" dy="10.5">创性；强烈的进取心、学习勤奋、有恒心。</tspan></text><line class="u" x1="299" y1="591" x2="492" y2="591"/></g>
<g id="n-training"><text class="xs" x="420" y="625">当前针对超常儿童的培养主要包括“加<tspan x="420" dy="7">速式教育”和“丰富式教育”两种方式。</tspan></text><line class="u" x1="418" y1="635" x2="492" y2="635"/></g>
<g id="n-accel"><text class="xs" x="201" y="596">“加速式教育”主要是指通过特殊学校或普通学校中的特殊班级为智力超常儿童提供教 育，使其在短于普通<tspan x="201" dy="6.5">学制的时间内完成学业任务;“丰富式教育”是指把智力超常儿 童放在普通班级中学习，与此同时为他们提供</tspan><tspan x="201" dy="6.5">一些特别的服务和指导。</tspan></text><line class="u" x1="201" y1="614" x2="406" y2="614"/></g>
<g id="n-enrich"><text class="xs" x="213" y="639">“丰富式教育”是当今受到较广泛认可的智力超常儿童教育模式，该模式倡导者认为超常儿童应该生活<tspan x="213" dy="6.5">在普通的学校和班级之中，他们可以用较短的时间和精力完成普通学生的任务，把剩余的精力用</tspan><tspan x="213" dy="6.5">于更丰富的活动之中，而学校和社会则应为超常儿童提供条件，充分满足他们的这种特殊需要。</tspan></text><line class="u" x1="213" y1="657" x2="406" y2="657"/></g>
<g id="n-practice"><text class="xs" x="8" y="618">实践途径说明:<tspan x="8" dy="6.5">(1) 区别对待教育方案：即在同一班级中从学习内容、学习进度和教育要求上都要为智力超常儿童提</tspan><tspan x="8" dy="6.5">供适合其特点的教育。</tspan><tspan x="8" dy="6.5">(2) 超常儿童教育方案：即为智力超常儿童开设专门的班级或学校。</tspan><tspan x="8" dy="6.5">(3) 特殊教育方案：即为智力超常儿童制订特殊的教育计划。</tspan></text><line class="u" x1="8" y1="657" x2="201" y2="657"/></g>

<g id="n-retard"><text class="xs" x="682" y="760">智力低下( mental retardation ) 儿<tspan x="682" dy="6">童，也称智力迟滞儿童或弱智儿童，</tspan><tspan x="682" dy="6">是指因大脑发育受损而引起的认知活动</tspan><tspan x="682" dy="6">出现持续障碍的儿童。</tspan></text><line class="u" x1="677" y1="780" x2="758" y2="780"/></g>
<g id="n-ra"><text class="xs" x="448" y="669">鉴别弱智儿童通常有以下 两项标准:<tspan x="448" dy="5.4">一是智能低下，智商在 70 以下;</tspan><tspan x="448" dy="5.4">二是社会适应能力低下，生活不能自理， 不能从事简单的劳动，跟班学习困难等 ， 智力低下儿童的智力发展处于</tspan><tspan x="448" dy="5.4">持续性迟缓状态， 智力水平和智力功能低于正常水平的儿 童，其明显的特征是社会适应不良。</tspan></text><line class="u" x1="448" y1="689" x2="666" y2="689"/></g>
<g id="n-rb"><text class="xs" x="617" y="722">智力低下儿童分为三类:</text><text class="xs" x="432" y="697">(1) 轻度：生活能自理，能从事简单劳 动，有语言能力，但学习能力、特别是掌握数概<tspan x="432" dy="5.7">念和进行计算有困难;</tspan><tspan x="432" dy="5.7">(2) 中度：生活能半自理，动作部分有障 碍，只会说简单的字或极少的生活用语，数概</tspan><tspan x="432" dy="5.7">念缺乏或极其简单;</tspan><tspan x="432" dy="5.7">(3) 重度：生活不能自理，动作有困难，缺乏语言，或只会发单音，不识数。</tspan></text><line class="u" x1="432" y1="725" x2="666" y2="725"/></g>
<g id="n-rc"><text class="xs" x="590" y="758">智力低下一般有各种病理原因，先天、<tspan x="590" dy="5">后天引起的脑病病理变是主要原因，</tspan><tspan x="590" dy="5">从病理角度来说，其病因大致如下:</tspan></text><line class="u" x1="586" y1="772" x2="667" y2="772"/></g>
<g id="n-rc1"><text class="xs" x="373" y="738">产前因素：如受精卵中染色体畸变，母亲妊娠期间由于患病(高烧、抗药过多)与治疗( X 光照射)给胎儿脑<tspan x="373" dy="5.6">发育带来不利影响，或近亲繁殖造成的智力落后;</tspan><tspan x="373" dy="5.6">产程因素：如胎带绕颈，分娩异常，难产，新生儿窒息 和颅内出血等;</tspan><tspan x="373" dy="5.6">产后因素：出生后患过脑炎，脑膜炎(有后遗症)或高烧等疾病;</tspan><tspan x="373" dy="5.6">其他病因因不明：如有的儿童在早龄小时患过脑炎或中毒性痢疾，   病中患发过高烧、脑损伤。</tspan></text><line class="u" x1="373" y1="766" x2="577" y2="766"/></g>
<g id="n-rc2"><text class="xs" x="363" y="772">智力低下也有社会环境因素，比如某些孤儿院或者类似的慈善机构只注意儿童的物质生活，忽视了其与他<tspan x="363" dy="5.8">交往的需要，使孤儿生活在缺乏刺激的环境中，这类儿童长大后智商会低于正常儿童。</tspan></text><line class="u" x1="363" y1="781" x2="575" y2="781"/></g>
<g id="n-rd"><text class="xs" x="375" y="789">智力低下的治疗关键是早期刺激早期训练以强化脑发育，即通过儿童的视觉、听觉、触觉感觉通道，强届交往，反<tspan x="375" dy="5.8">复刺激，打通神经通道，提高反应能力和反应速度。另外，还要根据儿童的智力发育状况制订运动、语言、认知、</tspan><tspan x="375" dy="5.8">社会交 往、生活自理能力等各方面的训练计划，循序渐进地提高患儿的全面发育，提高智能发育水平。如果患儿有</tspan><tspan x="375" dy="5.8">肢体运动功能障碍，需要同时进行肢体康复锻炼，如 按摩、针灸和必要的矫形手术等。药物治疗也是重要的治疗手</tspan><tspan x="375" dy="5.8">段，可选用一些营养 大脑组织，改善神经细胞代谢，改善脑功能，增强智力方面的药物。</tspan></text><line class="u" x1="337" y1="820" x2="666" y2="820"/></g>
<g id="n-re"><text class="xs" x="610" y="843">智力低下儿童的治疗与教育</text><line class="u" x1="606" y1="846" x2="666" y2="846"/></g>
<g id="n-re1"><text class="xs" x="338" y="825" style="font-size:5px">智力低下儿童可以分为三类进行教育:<tspan x="338" dy="5.6">一类可教育者，即通过教育可以使其掌握社会生活所需要的知识和技能;</tspan><tspan x="338" dy="5.6">二类可训练者，这部分患儿没有能力在学校教育中掌握知识技能，不能参与社会生活，但可以进行处理身边琐事和适应生活等的训练;</tspan><tspan x="338" dy="5.6">三类保护对象，即终身在家庭或特设机构里接受照顾和保护。</tspan></text><line class="u" x1="338" y1="846" x2="606" y2="846"/></g>
<g id="n-re2"><text class="xs" x="380" y="855">对轻度智力低下儿童，采用适当的教育措施，能促进其智力进一步发展，并达到适应社会要求的水平。<tspan x="380" dy="5.7">对中度或重度智力低下儿童，要设立特殊班级或专门学校对其进行教育和训练，在特殊班级或学校中，对他们进</tspan><tspan x="380" dy="5.7">行系统的、适合其特点的教学，或采用诊断性补救措施，即儿童缺什么就教什么。</tspan></text><line class="u" x1="380" y1="869" x2="594" y2="869"/></g>

<g id="n-evolution"><text class="lb" x="745" y="928">演变</text><line class="u" x1="740" y1="930" x2="759" y2="930"/></g>
<g id="n-v1"><text class="t" x="657" y="879">测验依据:从强调项目的测<tspan x="657" dy="8.8">量指标到强调理论基础</tspan></text><line class="u" x1="655" y1="891" x2="730" y2="891"/></g>
<g id="n-v2"><text class="t" x="657" y="901">测验内容:从关注学业能力<tspan x="657" dy="8.8">到评估更多方面的能力</tspan></text><line class="u" x1="655" y1="913" x2="730" y2="913"/></g>
<g id="n-v3"><text class="t" x="640" y="925">测验形式:从静态测验到动态测验</text><line class="u" x1="638" y1="930" x2="730" y2="930"/></g>
<g id="n-v4"><text class="t" x="657" y="936">测验的编制与实施:对测验<tspan x="657" dy="8.8">文化不公平问题的改善</tspan></text><line class="u" x1="655" y1="948" x2="730" y2="948"/></g>
<g id="n-v5"><text class="t" x="657" y="958">测验的方法学基础:从经典<tspan x="657" dy="8.8">测量理论到现代测量理论</tspan></text><line class="u" x1="655" y1="970" x2="730" y2="970"/></g>
<g id="n-examples"><text class="lb" x="722" y="1111">智力测验举例</text><line class="u" x1="719" y1="1114" x2="759" y2="1114"/></g>
<g id="n-binet"><text class="lb" x="663" y="1052">比内-西蒙量表</text><text class="t" x="430" y="982">1905 年编制的比内-西蒙智力量表是一种个别测验式的量表， 包括 30 个测量一<tspan x="430" dy="8.7">般智力的项目，既有对较低级的感知觉方面的测量，也有对较高级的判断推理、</tspan><tspan x="430" dy="8.7">理解等方面的测量。量表中项目按照难度由小到大排列，以通过题数的多少作为</tspan><tspan x="430" dy="8.7">鉴别智力高低的标准。</tspan><tspan x="430" dy="8.7">比内-西蒙智力量表首创了“智力年龄” (mental age, MA) 的概念，它是以儿童能</tspan><tspan x="430" dy="8.7">通过哪一年龄组的测验项目来计算的。（比如 ， 一个儿童通过了一套 7 岁组的</tspan><tspan x="430" dy="8.7">全部项目， 其智力年龄 就是 7 岁，如果他还通过了 8 岁组的2 个项目(代表4 个</tspan><tspan x="430" dy="8.7">月)， 那么其智力年龄就是 7 岁 4 个月。)</tspan><tspan x="430" dy="8.7">1911 年， 比内-西蒙量表再次获得修订， 并将量表延伸到成人阶段。</tspan></text><line class="u" x1="430" y1="1055" x2="706" y2="1055"/></g>
<g id="n-stanford"><text class="lb" x="656" y="1111">斯坦福-比内量表</text><line class="u" x1="644" y1="1114" x2="706" y2="1114"/></g>
<g id="n-sb1"><text class="t" x="430" y="1069">推孟的该测验有 90 个项目， 其最大特点是引入“ 智力商数” (intelligence<tspan x="430" dy="8.7">quotient, IQ) 的概念， 它是心理年龄( MA) 与实足年龄 ( chronological age,</tspan><tspan x="430" dy="8.7">CA) 之比， 也称比率智商。</tspan></text><line class="u" x1="430" y1="1090" x2="631" y2="1090"/></g>
<g id="n-sb2"><text class="t" x="432" y="1100">推孟的主要贡献在于:<tspan x="432" dy="8.4">(1) 严格规定了施测和记分的指导语和说明书 ； 将测验编制标准化，从而提</tspan><tspan x="432" dy="8.4">高了量表的信度;</tspan><tspan x="432" dy="8.4">(2) 扩充了成人组测验， 可以测出自 2 岁儿童到成人的智力水平;</tspan><tspan x="432" dy="8.4">(3)采用了比率智商的概念， 自此智力测验均以智商作为衡量智力水平的标准</tspan></text><line class="u" x1="430" y1="1138" x2="631" y2="1138"/></g>
<g id="n-wechsler"><text class="lb" x="644" y="1219">韦克斯勒智力量表</text><line class="u" x1="640" y1="1222" x2="706" y2="1222"/></g>
<g id="n-wisc4"><rect class="ob" x="278" y="1143" width="285" height="33" rx="16"/><text class="t" x="291" y="1153" style="font-size:5.6px">韦氏儿童智力量表第四版 ( WISC - N ) 由 14 个分测验组成， 其测量结果提供一个全量表的总智<tspan x="291" dy="8">商，用以说明儿童的总体认知能力，同时也导出另外四个合成分数--言语理解指数、知觉推理指</tspan><tspan x="291" dy="8">数、工作记忆指数和加工速度指数，用以说明儿童在不同领域中的认知能力。</tspan></text></g>
<g id="n-wx"><text class="wx" x="215" y="1187">美国心理学家韦克斯勒 ( D. Wechsler)编制了四个广泛应用的智力量表，包括:<tspan x="215" dy="8">(1) 韦克斯勒-贝勒维智力量表( Wechsler-Bellevus Scale, W-B) , 1939 年韦克斯勒在贝勒维精神病医院工作期间编制的个人智力量表， 适用于16-60 岁</tspan><tspan x="215" dy="8">的被试;</tspan><tspan x="215" dy="8">(2) 韦克斯勒儿童智力量表 ( Wechsler Intelligence Scale for Children, WISC) , 1949 年编制;</tspan><tspan x="215" dy="8">(3) 韦克斯勒成人智力表 ( Wechsler Adult Intelligence Scale, WAIS) , 1955 年编制;</tspan><tspan x="215" dy="8">(4) 韦克斯勒学前和学龄初期儿童智力量表 ( Wech- sler Preschool and Primary Scale of Intelligence, WPPSI) , 1967 年编制。</tspan><tspan x="215" dy="8">韦氏儿童智力量表第四版 (WISC-IV) 2003 年起在北美正式 发行和使用，声誉卓著，是目前国际上最著名、最权威、最有效的智力测量工具之一。</tspan></text><line class="u" x1="213" y1="1239" x2="627" y2="1239"/></g>

<g id="watermark"><text x="1176" y="1612" style="font-size:46px;fill:#c9c9c9;fill-opacity:0.75;stroke:#b5b5b5;stroke-width:0.8">知乎 @真真</text></g>
</svg>
